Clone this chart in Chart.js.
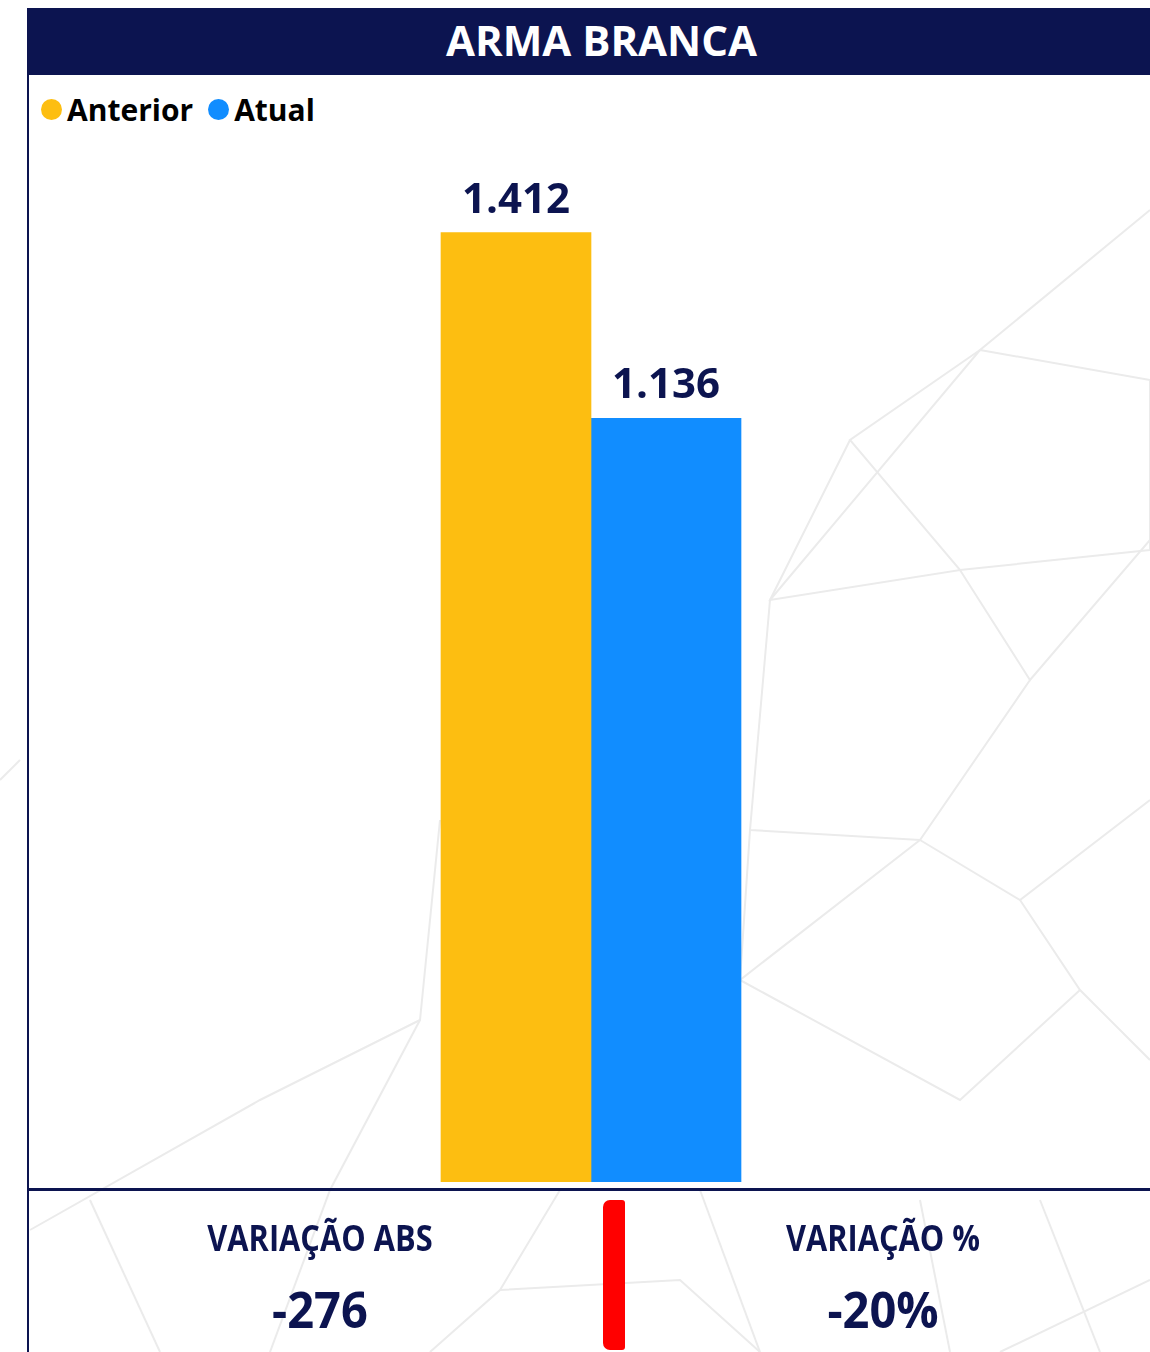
<!DOCTYPE html>
<html><head><meta charset="utf-8">
<script src="https://cdn.jsdelivr.net/npm/chart.js@4/dist/chart.umd.min.js"></script>
<style>
html,body{margin:0;padding:0;background:#fff;}
#wrap{position:relative;width:1150px;height:1352px;overflow:hidden;font-family:"Open Sans","Noto Sans",sans-serif;}
#bg{position:absolute;left:0;top:0;}
#frame{position:absolute;left:27px;top:8px;width:1123px;height:1344px;border-left:2px solid #0c1450;box-sizing:border-box;}
#title{position:absolute;left:53px;top:8px;width:1097px;height:67px;background:#0c1450;color:#fff;font-weight:700;font-size:42px;line-height:64px;text-align:center;box-shadow:-26px 0 0 #0c1450;}
#legend{position:absolute;left:41px;top:89px;display:flex;align-items:center;font-weight:700;font-size:30px;color:#000;}
.li{display:flex;align-items:center;margin-right:15px;}
.dot{width:21px;height:21px;border-radius:50%;margin-right:5px;}
#chart{position:absolute;left:0;top:0;}
#hline{position:absolute;left:29px;top:1188px;width:1121px;height:3px;background:#0c1450;}
#red{position:absolute;left:603px;top:1200px;width:22px;height:150px;background:#ff0000;border-radius:7px 3px 3px 7px;}
.kl{position:absolute;width:400px;text-align:center;color:#0c1450;font-weight:700;font-family:"Open Sans",sans-serif;transform:scaleX(0.88);}
.kt{font-size:35px;top:1214px;}
.kv{font-size:50px;top:1275px;transform:scaleX(0.94);}
</style></head>
<body>
<div id="wrap">
<svg id="bg" width="1150" height="1352" stroke="#ebebeb" stroke-width="2" fill="none">
<polyline points="770,600 980,350 1150,210"/>
<polyline points="980,350 1150,380 1150,550 960,570 850,440 980,350"/>
<polyline points="850,440 770,600 960,570 1030,680 1150,540"/>
<polyline points="770,600 750,830 920,840 1030,680"/>
<polyline points="920,840 1020,900 1150,800"/>
<polyline points="750,830 740,980 920,840"/>
<polyline points="1020,900 1080,990 1150,1060"/>
<polyline points="740,980 960,1100 1080,990"/>
<polyline points="440,820 420,1020 260,1100 30,1230"/>
<polyline points="420,1020 330,1190 270,1352"/>
<polyline points="90,1200 160,1352"/>
<polyline points="560,1190 500,1290 430,1352"/>
<polyline points="700,1190 760,1352"/>
<polyline points="500,1290 680,1280 760,1352"/>
<polyline points="920,1200 950,1352"/>
<polyline points="1040,1200 1100,1352"/>
<polyline points="1150,1280 1000,1352"/>
<polyline points="0,780 20,760"/>
</svg>
<div id="frame"></div>
<div id="title">ARMA BRANCA</div>
<div id="legend"></div>
<canvas id="chart" width="1150" height="1352"></canvas>
<div id="hline"></div>
<div id="red"></div>
<div class="kl kt" style="left:120px">VARIAÇÃO ABS</div>
<div class="kl kv" style="left:120px" id="vabs"></div>
<div class="kl kt" style="left:683px">VARIAÇÃO %</div>
<div class="kl kv" style="left:683px" id="vpct"></div>
</div>
<script>
const categories = ["ARMA BRANCA"];
const seriesNames = ["Anterior", "Atual"];
const anteriorValues = [1412];
const atualValues = [1136];
const seriesColors = ["#FDBE11", "#118DFF"];
const yMax = 1535;

const fmt = v => v.toLocaleString('pt-BR');
const lg = document.getElementById('legend');
seriesNames.forEach((n,i)=>{
  const d=document.createElement('div');d.className='li';
  d.innerHTML='<span class="dot" style="background:'+seriesColors[i]+'"></span>'+n;
  lg.appendChild(d);
});
const diff = atualValues[0]-anteriorValues[0];
document.getElementById('vabs').textContent = fmt(diff);
document.getElementById('vpct').textContent = Math.round(diff/anteriorValues[0]*100)+'%';

const labelPlugin = {
  id:'labels',
  afterDatasetsDraw(chart){
    const ctx=chart.ctx;
    ctx.save();
    ctx.fillStyle='#0c1450';
    ctx.font='700 42px "Open Sans", sans-serif';
    ctx.textAlign='center';
    ctx.textBaseline='alphabetic';
    chart.data.datasets.forEach((ds,di)=>{
      chart.getDatasetMeta(di).data.forEach((bar,i)=>{
        ctx.fillText(fmt(ds.data[i]), bar.x, bar.y-20);
      });
    });
    ctx.restore();
  }
};

new Chart(document.getElementById('chart'),{
  type:'bar',
  data:{labels:categories,datasets:[
    {label:seriesNames[0],data:anteriorValues,backgroundColor:seriesColors[0],barThickness:150},
    {label:seriesNames[1],data:atualValues,backgroundColor:seriesColors[1],barThickness:150}
  ]},
  options:{
    responsive:false,animation:false,
    layout:{padding:{left:32,right:0,top:150,bottom:170}},
    plugins:{legend:{display:false},tooltip:{enabled:false}},
    scales:{x:{display:false},y:{display:false,min:0,max:yMax}}
  },
  plugins:[labelPlugin]
});
</script>
</body></html>
